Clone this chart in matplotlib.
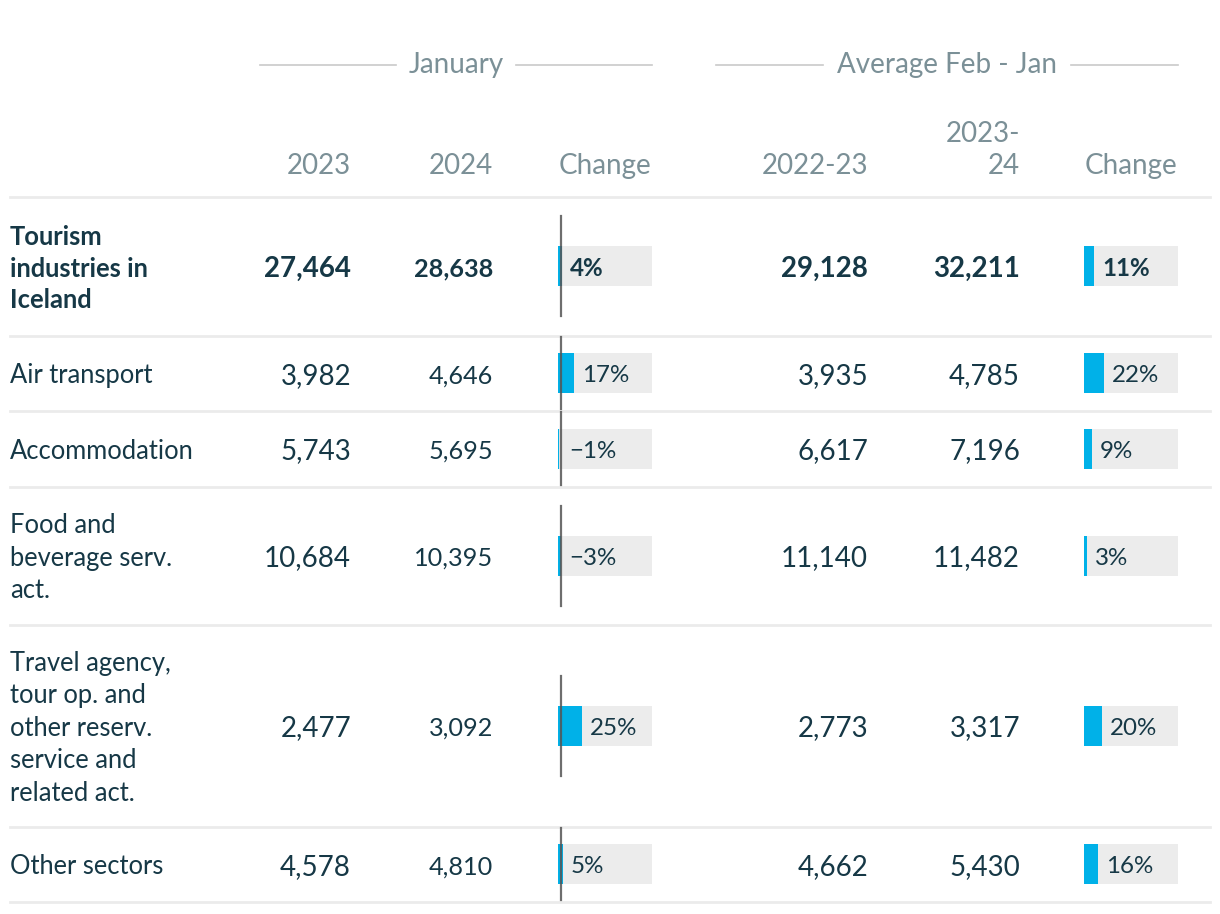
import matplotlib.pyplot as plt
from matplotlib.patches import Rectangle

plt.rcParams['font.family'] = ['Lato', 'DejaVu Sans']

# table data
sectors = ["Tourism\nindustries in\nIceland", "Air transport", "Accommodation",
           "Food and\nbeverage serv.\nact.",
           "Travel agency,\ntour op. and\nother reserv.\nservice and\nrelated act.",
           "Other sectors"]
jan_2023 = [27464, 3982, 5743, 10684, 2477, 4578]
jan_2024 = [28638, 4646, 5695, 10395, 3092, 4810]
jan_change = [4, 17, -1, -3, 25, 5]
avg_2223 = [29128, 3935, 6617, 11140, 2773, 4662]
avg_2324 = [32211, 4785, 7196, 11482, 3317, 5430]
avg_change = [11, 22, 9, 3, 20, 16]

group_labels = ["January", "Average Feb - Jan"]
col_labels = ["2023", "2024", "Change", "2022-23", "2023-\n24", "Change"]

HEAD = '#7b9097'
BODY = '#163846'
CYAN = '#00b1e8'
BOXC = '#ececec'
RULE = '#ebebeb'

fig = plt.figure(figsize=(12.2, 9.14), dpi=100)
ax = fig.add_axes([0, 0, 1, 1])
ax.set_xlim(0, 1220)
ax.set_ylim(914, 0)
ax.axis('off')

# column geometry (pixels)
num_right = [351, 493, None, 868, 1020, None]
box_left = [558, 1084]
box_w = 94
zero_off = [3, 0]
scale = [0.95, 0.9]
dy = 2.5  # text sits a bit below the row middle

# group headers with rules
for lab, (x0, x1) in zip(group_labels, [(260, 652), (716, 1178)]):
    xc = (x0 + x1) / 2
    ax.text(xc, 65, lab, ha='center', va='center', fontsize=20, color=HEAD)
    half = len(lab) * 6.4 + 15
    ax.plot([x0, xc - half], [65, 65], color='#c9c9c9', lw=1.2)
    ax.plot([xc + half, x1], [65, 65], color='#c9c9c9', lw=1.2)

# column headers
head_right = [351, 493, 651, 868, 1020, 1177]
for lab, xr in zip(col_labels, head_right):
    ax.text(xr, 179, lab, ha='right', va='bottom', fontsize=20, color=HEAD,
            linespacing=1.28)

ax.plot([10, 1210], [197, 197], color=RULE, lw=2)

# rows
y = 197
for i, lab in enumerate(sectors):
    n = lab.count('\n') + 1
    h = 44 + 31.5 * n
    yc = y + h / 2
    yt = yc + dy
    bold = 'bold' if i == 0 else 'normal'
    ax.text(10, yt, lab, ha='left', va='center', fontsize=18.4, color=BODY,
            fontweight=bold, linespacing=1.38)
    ax.text(num_right[0], yt, f"{jan_2023[i]:,}", ha='right', va='center',
            fontsize=20, color=BODY, fontweight=bold)
    ax.text(num_right[1], yt, f"{jan_2024[i]:,}", ha='right', va='center',
            fontsize=18.2, color=BODY, fontweight=bold)
    ax.text(num_right[3], yt, f"{avg_2223[i]:,}", ha='right', va='center',
            fontsize=20, color=BODY, fontweight=bold)
    ax.text(num_right[4], yt, f"{avg_2324[i]:,}", ha='right', va='center',
            fontsize=20, color=BODY, fontweight=bold)

    for k, vals in enumerate([jan_change, avg_change]):
        v = vals[i]
        bl = box_left[k]
        ax.add_patch(Rectangle((bl, yc - 20), box_w, 40, color=BOXC, lw=0))
        w = abs(v) * scale[k]
        ax.barh(yc, w, height=40, left=bl, color=CYAN)
        if k == 0:
            lh = min(h - 2, 100)
            ax.plot([bl + zero_off[k]] * 2, [yc - lh / 2, yc + lh / 2],
                    color='#555555', lw=1.6, alpha=0.85)
        txt = f"{v}%".replace('-', '\u2212')
        ax.text(bl + max(w, 3) + 8, yt, txt, ha='left', va='center',
                fontsize=17.4, color=BODY, fontweight=bold)

    y += h
    ax.plot([10, 1210], [y, y], color=RULE, lw=2)

fig.savefig('out.png', dpi=100)
